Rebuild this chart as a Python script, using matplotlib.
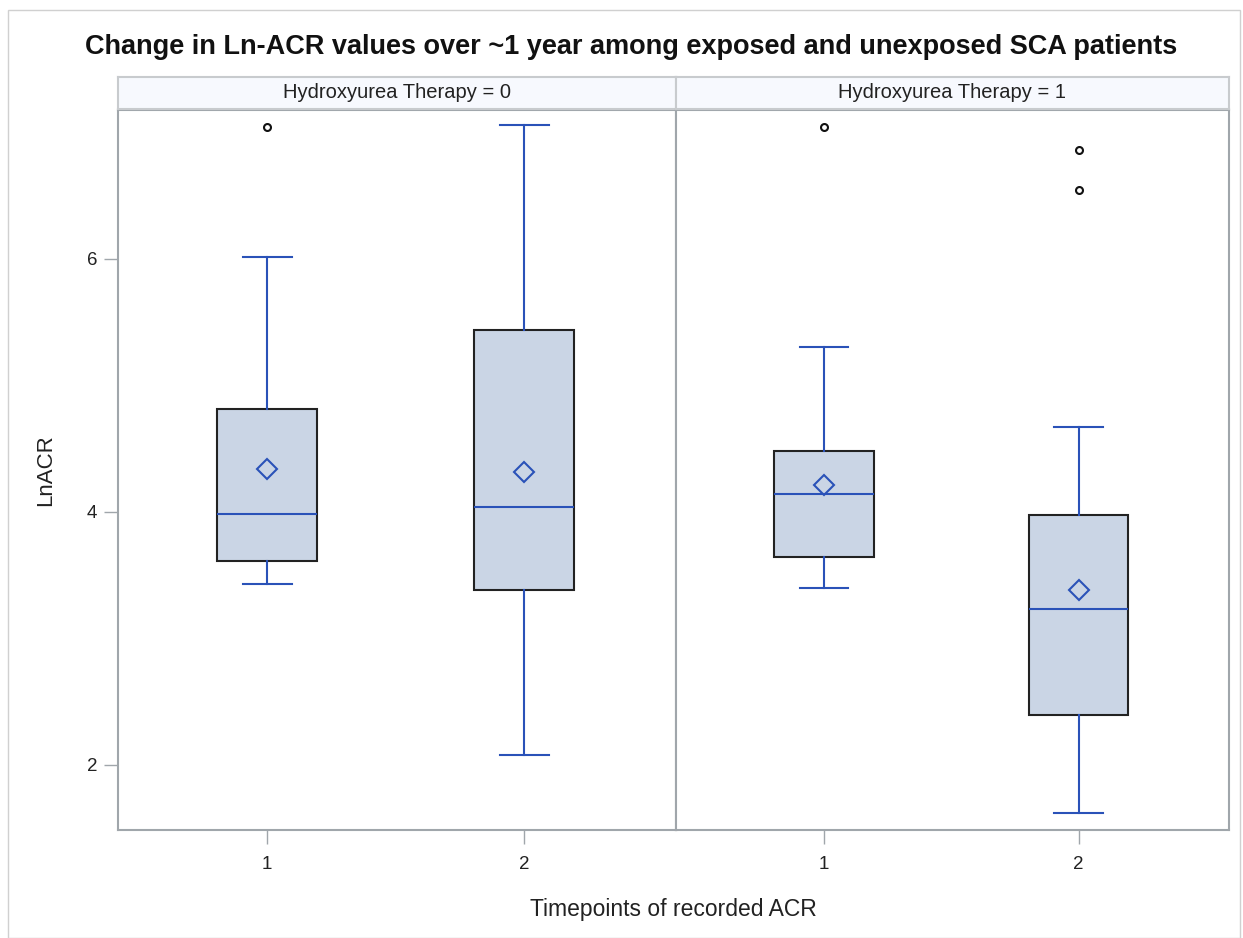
import numpy as np
import matplotlib
matplotlib.use("Agg")
import matplotlib.pyplot as plt
from matplotlib.patches import Rectangle

plt.rcParams['font.family'] = ['Liberation Sans', 'DejaVu Sans']

panels = ["Hydroxyurea Therapy = 0", "Hydroxyurea Therapy = 1"]
timepoints = [1, 2]
# per panel, per timepoint
whislo = [[3.43, 2.08], [3.40, 1.62]]
q1 = [[3.61, 3.38], [3.64, 2.39]]
med = [[3.98, 4.04], [4.14, 3.23]]
q3 = [[4.81, 5.44], [4.48, 3.97]]
whishi = [[6.01, 7.06], [5.30, 4.67]]
means = [[4.34, 4.31], [4.21, 3.38]]
fliers = [[[7.04], []], [[7.04], [6.86, 6.54]]]

blue = '#2A52B8'
fill = '#CAD5E5'
gray = '#A0A6AB'

fig = plt.figure(figsize=(12.43, 9.38), dpi=100)
W, H = 1243, 938
fig.patches.append(Rectangle((8 / W, 0), (1240 - 8) / W, 1 - 10 / H, transform=fig.transFigure,
                             fill=False, edgecolor='#D0D0D0', lw=1))

xs = [(118, 676), (676, 1229)]
top, bot = 110, 830
for p in range(2):
    x0, x1 = xs[p]
    ax = fig.add_axes([x0 / W, 1 - bot / H, (x1 - x0) / W, (bot - top) / H])
    stats = []
    for t in range(2):
        stats.append(dict(whislo=whislo[p][t], q1=q1[p][t], med=med[p][t], q3=q3[p][t],
                          whishi=whishi[p][t], mean=means[p][t], fliers=fliers[p][t]))
    ax.bxp(stats, positions=timepoints, widths=0.39, patch_artist=True, showmeans=True,
           boxprops=dict(facecolor=fill, edgecolor='#222222', lw=1.5),
           whiskerprops=dict(color=blue, lw=1.5),
           capprops=dict(color=blue, lw=1.5),
           medianprops=dict(color=blue, lw=1.5),
           meanprops=dict(marker='D', markerfacecolor='none', markeredgecolor=blue,
                          markersize=10, markeredgewidth=1.5),
           flierprops=dict(marker='o', markerfacecolor='none', markeredgecolor='#111111',
                           markersize=5, markeredgewidth=1.5),
           capwidths=0.19)
    ax.set_xlim(0.42, 2.59)
    ax.set_ylim(1.484, 7.175)
    ax.set_yticks([2, 4, 6])
    ax.set_xticks(timepoints)
    ax.set_xticklabels([str(t) for t in timepoints])
    for s in ax.spines.values():
        s.set_color(gray)
        s.set_linewidth(1.5)
    ax.tick_params(axis='both', colors=gray, labelcolor='#222222', labelsize=13.5, length=10, width=1)
    ax.tick_params(axis='x', pad=9)
    ax.tick_params(axis='y', pad=5)
    if p == 0:
        ax.set_ylabel('LnACR', fontsize=16, color='#222222', labelpad=22)
    else:
        ax.tick_params(axis='y', left=False, labelleft=False)
    # header strip
    hx = fig.add_axes([x0 / W, 1 - 109 / H, (x1 - x0) / W, (109 - 77) / H])
    hx.set_facecolor('#F7F9FE')
    hx.set_xticks([])
    hx.set_yticks([])
    for s in hx.spines.values():
        s.set_color('#C8CBCE')
        s.set_linewidth(1.5)
    hx.text(0.5, 0.5, panels[p], ha='center', va='center', fontsize=14.5, color='#222222',
            transform=hx.transAxes)

fig.text(631 / W, 1 - 47 / H,
         'Change in Ln-ACR values over ~1 year among exposed and unexposed SCA patients',
         ha='center', va='center', fontsize=19.5, fontweight='bold', color='#111111')
fig.text(0.5 * (118 + 1229) / W, 1 - 909 / H, 'Timepoints of recorded ACR',
         ha='center', va='center', fontsize=16.5, color='#222222')

fig.savefig('out.png', dpi=100)
